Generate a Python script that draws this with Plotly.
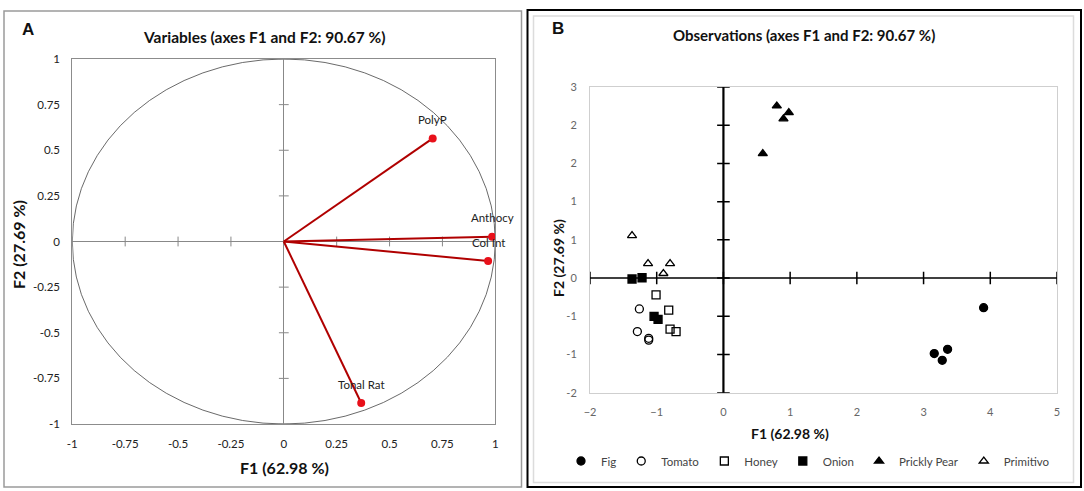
import plotly.graph_objects as go

W, H = 1084, 491

# panel A: variable loadings on F1/F2
var_names = ["PolyP", "Anthocy", "Col Int", "Tonal Rat"]
var_f1 = [0.704, 0.985, 0.966, 0.366]
var_f2 = [0.565, 0.026, -0.107, -0.885]
a_ticks = [-1, -0.75, -0.5, -0.25, 0, 0.25, 0.5, 0.75, 1]
a_ticktext = ["-1", "-0.75", "-0.5", "-0.25", "0", "0.25", "0.5", "0.75", "1"]

# panel B: observation scores
groups = ["Fig", "Tomato", "Honey", "Onion", "Prickly Pear", "Primitivo"]
obs_f1 = {
    "Fig": [3.90, 3.16, 3.36, 3.28],
    "Tomato": [-1.26, -1.29, -1.12, -1.12],
    "Honey": [-1.01, -0.82, -0.80, -0.71],
    "Onion": [-1.37, -1.22, -1.04, -0.98],
    "Prickly Pear": [0.80, 0.98, 0.90, 0.59],
    "Primitivo": [-1.37, -1.13, -0.80, -0.90],
}
obs_f2 = {
    "Fig": [-0.61, -1.36, -1.29, -1.47],
    "Tomato": [-0.63, -1.00, -1.11, -1.14],
    "Honey": [-0.40, -0.65, -0.96, -1.00],
    "Onion": [-0.14, -0.12, -0.75, -0.80],
    "Prickly Pear": [2.69, 2.58, 2.48, 1.91],
    "Primitivo": [0.57, 0.11, 0.11, -0.05],
}
symbols = {"Fig": "circle", "Tomato": "circle-open", "Honey": "square-open",
           "Onion": "square", "Prickly Pear": "triangle-up", "Primitivo": "triangle-up-open"}
b_xticks = [-2, -1, 0, 1, 2, 3, 4, 5]
b_yticks = [3, 2.375, 1.75, 1.125, 0.5, -0.125, -0.75, -1.375, -2]
b_yticktext = ["3", "2", "2", "1", "1", "0", "-1", "-1", "-2"]
b_cross_y = -0.125

FONT = "Lato, Open Sans, sans-serif"


def px(x):
    return x / W


def py(y):
    return 1 - y / H


fig = go.Figure()

# panel A: cross axes tick marks
a_inner = [t for t in a_ticks if t != 0]
fig.add_trace(go.Scatter(x=a_inner, y=[0] * len(a_inner), mode="markers",
                         marker=dict(symbol="line-ns", size=7, line=dict(color="#888", width=1)),
                         xaxis="x", yaxis="y", showlegend=False, hoverinfo="skip"))
fig.add_trace(go.Scatter(x=[0] * len(a_inner), y=a_inner, mode="markers",
                         marker=dict(symbol="line-ew", size=7, line=dict(color="#888", width=1)),
                         xaxis="x", yaxis="y", showlegend=False, hoverinfo="skip"))

# vectors
vx, vy = [], []
for a, b in zip(var_f1, var_f2):
    vx += [0, a, None]
    vy += [0, b, None]
fig.add_trace(go.Scatter(x=vx, y=vy, mode="lines", line=dict(color="#b00000", width=2),
                         xaxis="x", yaxis="y", showlegend=False))
fig.add_trace(go.Scatter(x=var_f1, y=var_f2, mode="markers",
                         marker=dict(color="#e8101a", size=8),
                         xaxis="x", yaxis="y", showlegend=False))

# panel B: cross-axis tick marks
fig.add_trace(go.Scatter(x=b_xticks, y=[b_cross_y] * len(b_xticks), mode="markers",
                         marker=dict(symbol="line-ns", size=9, line=dict(color="black", width=1.5)),
                         xaxis="x2", yaxis="y2", showlegend=False, hoverinfo="skip"))
fig.add_trace(go.Scatter(x=[0] * len(b_yticks), y=b_yticks, mode="markers",
                         marker=dict(symbol="line-ew", size=9, line=dict(color="black", width=1.5)),
                         xaxis="x2", yaxis="y2", showlegend=False, hoverinfo="skip"))

for g in groups:
    fig.add_trace(go.Scatter(
        x=obs_f1[g], y=obs_f2[g], mode="markers", name=g,
        marker=dict(symbol=symbols[g], size=8, color="black",
                    line=dict(color="black", width=1.3)),
        xaxis="x2", yaxis="y2"))

shapes = [
    # panel frames
    dict(type="rect", xref="paper", yref="paper", x0=px(4), x1=px(521.5), y0=py(487), y1=py(11),
         line=dict(color="#9a9a9a", width=1.5)),
    dict(type="rect", xref="paper", yref="paper", x0=px(527.5), x1=px(1081), y0=py(487), y1=py(10),
         line=dict(color="black", width=2)),
    dict(type="rect", xref="paper", yref="paper", x0=px(533.5), x1=px(1073.5), y0=py(482.5), y1=py(16),
         line=dict(color="#dcdcdc", width=1.5)),
    # correlation circle
    dict(type="circle", xref="x", yref="y", x0=-1, x1=1, y0=-1, y1=1,
         line=dict(color="#444", width=0.8), layer="below"),
    # panel B crossing axes
    dict(type="line", xref="x2 domain", yref="y2", x0=0, x1=1, y0=b_cross_y, y1=b_cross_y,
         line=dict(color="black", width=1.5)),
    dict(type="line", xref="x2", yref="y2 domain", x0=0, x1=0, y0=0, y1=1,
         line=dict(color="black", width=2.2)),
]

ann = []
for n, a, b in zip(var_names, var_f1, var_f2):
    ann.append(dict(x=a, y=b, xref="x", yref="y", text=n, showarrow=False, yshift=19,
                    font=dict(family=FONT, size=11.5, color="#222")))


def label(text, x, y, size, bold=True, angle=0, color="#111", family=FONT):
    t = f"<b>{text}</b>" if bold else text
    ann.append(dict(x=px(x), y=py(y), xref="paper", yref="paper", text=t, showarrow=False,
                    xanchor="center", yanchor="middle",
                    textangle=angle, font=dict(family=family, size=size, color=color)))


label("A", 28, 29, 17, family="Arial, Liberation Sans, sans-serif")
label("Variables (axes F1 and F2: 90.67 %)", 264, 37, 15.5)
label("F1 (62.98 %)", 284, 467, 16)
label("F2 (27.69 %)", 18, 245, 16, angle=-90)
label("B", 558, 28, 17, family="Arial, Liberation Sans, sans-serif")
label("Observations (axes F1 and F2: 90.67 %)", 804, 35, 15)
label("F1 (62.98 %)", 790, 433, 14)
label("F2 (27.69 %)", 558, 258, 14, angle=-90)

common = dict(showgrid=False, automargin=False, fixedrange=True,
              showline=True, mirror=True, linewidth=1, tickcolor="rgba(0,0,0,0)", ticks="outside")

fig.update_layout(
    width=W, height=H, margin=dict(l=0, r=0, t=0, b=0, autoexpand=False),
    paper_bgcolor="white", plot_bgcolor="white",
    shapes=shapes, annotations=ann,
    font=dict(family=FONT, color="#222"),
    xaxis=dict(domain=[px(72.3), px(495.3)], range=[-1, 1], tickvals=a_ticks, ticktext=a_ticktext,
               zeroline=True, zerolinecolor="#888", zerolinewidth=1.2,
               linecolor="#8c8c8c", ticklen=9, tickfont=dict(size=11.5, color="#222"), **common),
    yaxis=dict(domain=[py(424), py(59)], range=[-1, 1], tickvals=a_ticks, ticktext=a_ticktext,
               zeroline=True, zerolinecolor="#888", zerolinewidth=1.2,
               linecolor="#8c8c8c", ticklen=9, tickfont=dict(size=11.5, color="#222"), **common),
    xaxis2=dict(domain=[px(590), px(1057)], range=[-2, 5], tickvals=b_xticks, anchor="y2",
                zeroline=False,
                linecolor="#cfcfcf", ticklen=9, tickfont=dict(size=11, color="#666"), **common),
    yaxis2=dict(domain=[py(392.7), py(87)], range=[-2, 3], tickvals=b_yticks, ticktext=b_yticktext,
                anchor="x2", zeroline=False,
                linecolor="#cfcfcf", ticklen=10, tickfont=dict(size=11, color="#666"), **common),
    legend=dict(orientation="h", x=px(808), xanchor="center", y=py(461), yanchor="middle",
                font=dict(size=11.5, color="#444"), bgcolor="rgba(0,0,0,0)",
                itemwidth=30, tracegroupgap=0),
)

fig.write_html("out.html", config={"displayModeBar": False},
               post_script="document.body.style.margin='0';")
